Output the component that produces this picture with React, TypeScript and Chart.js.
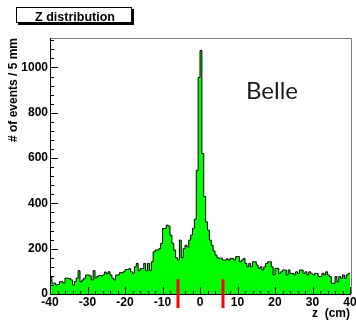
import React, { useEffect, useRef } from "react";
import { Chart, registerables } from "chart.js";

Chart.register(...registerables);

// ---- data ----
const BIN_START = -40; // cm
const BIN_WIDTH = 0.5; // cm (5 mm)
// events per 5 mm bin, z from -40 to -10 cm
const countsLeft = [
  75, 48, 48, 40, 42, 54, 54, 48, 70, 70,
  68, 62, 40, 55, 70, 103, 54, 62, 70, 84,
  84, 80, 62, 103, 70, 78, 82, 80, 84, 97,
  90, 98, 84, 70, 62, 84, 84, 94, 94, 98,
  108, 108, 112, 98, 92, 120, 135, 103, 112, 112,
  135, 103, 135, 103, 142, 186, 194, 194, 200, 223,
];
// z from -10 to 10 cm
const countsCentre = [
  289, 289, 304, 300, 260, 224, 194, 160, 150, 238,
  160, 200, 215, 208, 238, 260, 290, 330, 546, 956,
  1075, 620, 430, 318, 282, 238, 215, 190, 172, 160,
  158, 158, 150, 150, 155, 150, 157, 157, 150, 165,
];
// z from 10 to 40 cm
const countsRight = [
  165, 142, 150, 157, 135, 120, 135, 120, 142, 142,
  128, 113, 120, 106, 120, 135, 142, 142, 120, 84,
  113, 113, 91, 98, 106, 106, 84, 106, 91, 91,
  84, 98, 91, 106, 106, 91, 98, 84, 98, 91,
  84, 91, 91, 77, 77, 91, 84, 98, 84, 77,
  47, 47, 77, 54, 77, 69, 84, 69, 84, 91,
];
const X_MIN = -40;
const X_MAX = 40;
const X_MAJOR = 10;
const X_MINOR = 2;
const Y_MIN = 0;
const Y_MAX = 1130;
const Y_MAJOR = 200;
const Y_MINOR = 40;
const cutPositions = [-6, 6]; // red markers (cm)
const cutTop = 65; // marker top, in events
const chartTitle = "Z distribution";
const yTitle = "# of events / 5 mm";
const xTitle = "z  (cm)";
const expLabel = "Belle";

const FONT = "'Liberation Sans', Arial, Helvetica, sans-serif";

const counts = [...countsLeft, ...countsCentre, ...countsRight];
const points = counts.map((c, i) => ({ x: BIN_START + BIN_WIDTH * i, y: c }));
points.push({ x: BIN_START + BIN_WIDTH * counts.length, y: counts[counts.length - 1] });

const rootStyle = {
  id: "rootStyle",
  afterDatasetsDraw(chart: any) {
    const { ctx, chartArea: a, scales } = chart;
    const xs = scales.x;
    const ys = scales.y;
    ctx.save();
    // frame (top / right)
    ctx.strokeStyle = "#7a7a7a";
    ctx.lineWidth = 1;
    ctx.beginPath();
    ctx.moveTo(a.left, a.top + 0.5);
    ctx.lineTo(a.right + 1.5, a.top + 0.5);
    ctx.lineTo(a.right + 1.5, a.bottom);
    ctx.stroke();
    // axes
    ctx.strokeStyle = "#000";
    ctx.beginPath();
    ctx.moveTo(a.left + 0.5, a.top);
    ctx.lineTo(a.left + 0.5, a.bottom + 0.5);
    ctx.lineTo(a.right + 1, a.bottom + 0.5);
    ctx.stroke();
    // ticks inside
    ctx.beginPath();
    const nx = Math.round((X_MAX - X_MIN) / X_MINOR);
    for (let i = 0; i <= nx; i++) {
      const v = X_MIN + i * X_MINOR;
      const major = v % X_MAJOR === 0;
      const px = Math.round(xs.getPixelForValue(v)) + 0.5;
      ctx.moveTo(px, a.bottom + 0.5);
      ctx.lineTo(px, a.bottom + 0.5 - (major ? 7.5 : 3.5));
    }
    const ny = Math.floor((Y_MAX - Y_MIN) / Y_MINOR);
    for (let i = 0; i <= ny; i++) {
      const v = Y_MIN + i * Y_MINOR;
      const major = v % Y_MAJOR === 0;
      const py = Math.round(ys.getPixelForValue(v)) + 0.5;
      ctx.moveTo(a.left, py);
      ctx.lineTo(a.left + (major ? 8 : 4), py);
    }
    ctx.stroke();
    // red markers
    ctx.strokeStyle = "#ff0000";
    ctx.lineWidth = 3;
    ctx.beginPath();
    for (const c of cutPositions) {
      const px = Math.round(xs.getPixelForValue(c));
      ctx.moveTo(px, ys.getPixelForValue(cutTop));
      ctx.lineTo(px, a.bottom + 14);
    }
    ctx.stroke();
    ctx.restore();
  },
  afterDraw(chart: any) {
    const { ctx } = chart;
    ctx.save();
    // title box with shadow
    ctx.fillStyle = "#000";
    ctx.fillRect(18, 9, 116, 16);
    ctx.fillStyle = "#fff";
    ctx.fillRect(16, 7, 116, 16);
    ctx.strokeStyle = "#000";
    ctx.lineWidth = 1;
    ctx.strokeRect(16.5, 7.5, 115, 15);
    ctx.fillStyle = "#000";
    ctx.font = `bold 12.5px ${FONT}`;
    ctx.textAlign = "center";
    ctx.textBaseline = "alphabetic";
    ctx.fillText(chartTitle, 75, 20.5);
    // experiment label
    ctx.font = `24px Lato, 'Noto Sans', sans-serif`;
    ctx.fillStyle = "#1a1a1a";
    ctx.textAlign = "left";
    ctx.fillText(expLabel, 246, 99);
    ctx.restore();
  },
};

export default function App() {
  const ref = useRef<HTMLCanvasElement | null>(null);
  useEffect(() => {
    document.body.style.margin = "0";
    const canvas = ref.current!;
    const chart = new Chart(canvas, {
      type: "line",
      data: {
        datasets: [
          {
            data: points,
            stepped: "before",
            borderColor: "#000",
            borderWidth: 1,
            backgroundColor: "#00ff00",
            fill: "origin",
            pointRadius: 0,
            tension: 0,
          },
        ],
      },
      options: {
        animation: false,
        responsive: false,
        maintainAspectRatio: false,
        layout: { padding: { top: 38, right: 6, left: 0, bottom: 0 } },
        plugins: { legend: { display: false }, tooltip: { enabled: false }, title: { display: false } },
        scales: {
          x: {
            type: "linear",
            min: X_MIN,
            max: X_MAX,
            grid: { display: false, drawTicks: false },
            border: { display: false },
            ticks: {
              stepSize: X_MAJOR,
              padding: 1,
              color: "#000",
              maxRotation: 0,
              autoSkip: false,
              font: { family: FONT, size: 12, weight: "bold" },
              includeBounds: false,
              callback: (v: any) => String(v),
            },
            title: {
              display: true,
              text: xTitle,
              align: "end",
              color: "#000",
              font: { family: FONT, size: 12, weight: "bold", lineHeight: 1 },
              padding: { top: 0, bottom: 0 },
            },
            afterFit: (s: any) => {
              s.height = 26;
              s.paddingLeft = 0;
              s.paddingRight = 0;
            },
          },
          y: {
            type: "linear",
            min: Y_MIN,
            max: Y_MAX,
            grid: { display: false, drawTicks: false },
            border: { display: false },
            ticks: {
              stepSize: Y_MAJOR,
              padding: 2,
              color: "#000",
              includeBounds: false,
              font: { family: FONT, size: 12, weight: "bold" },
              callback: (v: any) => String(v),
            },
            title: {
              display: true,
              text: yTitle,
              align: "end",
              color: "#000",
              font: { family: FONT, size: 12, weight: "bold", lineHeight: 1.2 },
              padding: { top: 6, bottom: 0 },
            },
            afterFit: (s: any) => {
              s.width = 50;
              s.paddingTop = 0;
              s.paddingBottom = 0;
            },
          },
        },
      },
      plugins: [rootStyle],
    } as any);
    return () => chart.destroy();
  }, []);
  return (
    <div style={{ width: 356, height: 320, background: "#fff" }}>
      <canvas ref={ref} width={356} height={320} style={{ display: "block", width: 356, height: 320 }} />
    </div>
  );
}
